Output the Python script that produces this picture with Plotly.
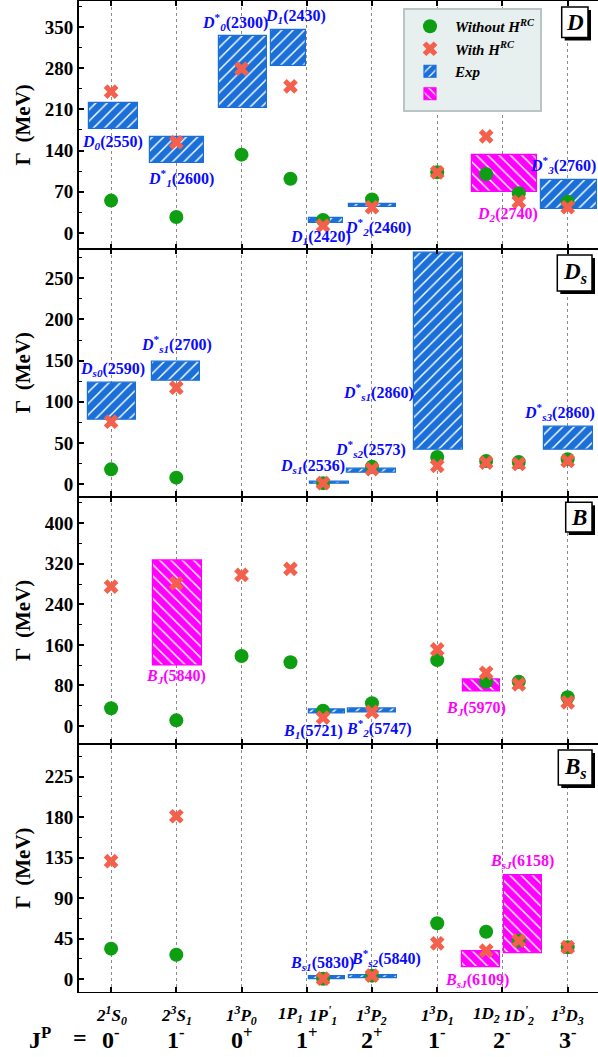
import plotly.graph_objects as go
from plotly.subplots import make_subplots

# ---------------- data ----------------
cat_x = [1, 2, 3, 3.75, 4.25, 5, 6, 6.75, 7.25, 8]
cat_labels = ["2<sup>1</sup>S<sub>0</sub>", "2<sup>3</sup>S<sub>1</sub>", "1<sup>3</sup>P<sub>0</sub>",
              "1P<sub>1</sub>", "1P<sup>'</sup><sub>1</sub>", "1<sup>3</sup>P<sub>2</sub>",
              "1<sup>3</sup>D<sub>1</sub>", "1D<sub>2</sub>", "1D<sup>'</sup><sub>2</sub>",
              "1<sup>3</sup>D<sub>3</sub>"]
jp_x = [1, 2, 3, 4, 5, 6, 7, 8]
jp_labels = ["0<sup>-</sup>", "1<sup>-</sup>", "0<sup>+</sup>", "1<sup>+</sup>",
             "2<sup>+</sup>", "1<sup>-</sup>", "2<sup>-</sup>", "3<sup>-</sup>"]

D_without = [55, 27, 133, 92, 22, 57, 103, 100, 67.5, 53]
D_with = [240, 154, 279, 249, 12.4, 43.7, 103, 164, 53, 43.7]
Ds_without = [17.8, 7.7, None, None, 1, 21, 32.8, 28, 26.7, 30]
Ds_with = [75.7, 117, None, None, 1, 18, 22, 26, 24.3, 28]
B_without = [35, 11.2, 138, 125.7, 30, 44.8, 130, 87.5, 87.5, 56.6]
B_with = [275, 281.6, 298, 310, 16.4, 28, 151, 105, 82, 46.8]
Bs_without = [33.7, 27, None, None, 0.3, 3.7, 62, 52.6, 42.6, 35.3]
Bs_with = [131, 181, None, None, 0.3, 3.7, 39.7, 31.5, 42.6, 35.3]

# experimental width ranges (x centre in category units, low, high, kind)
D_exp_x = [1.035, 2.01, 3.02, 3.72, 4.29, 5.01, 7.03, 8.02]
D_exp_low = [177, 118.6, 212, 284, 16.5, 44, 69, 40]
D_exp_high = [220.7, 163, 334, 345, 25, 49, 132.7, 90]
D_exp_kind = ["b", "b", "b", "b", "b", "b", "m", "b"]
D_exp_name = ["<i>D</i><sub><i>0</i></sub>(2550)", "<i>D</i><sup>*</sup><sub><i>1</i></sub>(2600)",
              "<i>D</i><sup>*</sup><sub><i>0</i></sub>(2300)", "<i>D</i><sub><i>1</i></sub>(2430)",
              "<i>D</i><sub><i>1</i></sub>(2420)", "<i>D</i><sup>*</sup><sub><i>2</i></sub>(2460)",
              "<i>D</i><sub><i>2</i></sub>(2740)", "<i>D</i><sup>*</sup><sub><i>3</i></sub>(2760)"]

Ds_exp_x = [1.01, 1.99, 4.35, 4.99, 6.02, 8.01]
Ds_exp_low = [78.6, 125.6, 0, 14, 41.3, 41.3]
Ds_exp_high = [123, 148.7, 2.5, 18.5, 281.6, 69.6]
Ds_exp_kind = ["b", "b", "b", "b", "b", "b"]
Ds_exp_name = ["<i>D</i><sub><i>s0</i></sub>(2590)", "<i>D</i><sup>*</sup><sub><i>s1</i></sub>(2700)",
               "<i>D</i><sub><i>s1</i></sub>(2536)", "<i>D</i><sup>*</sup><sub><i>s2</i></sub>(2573)",
               "<i>D</i><sup>*</sup><sub><i>s1</i></sub>(2860)", "<i>D</i><sup>*</sup><sub><i>s3</i></sub>(2860)"]

B_exp_x = [2.02, 4.31, 5.0, 6.68]
B_exp_low = [119, 23.7, 26, 68.5]
B_exp_high = [327, 31.6, 34, 92]
B_exp_kind = ["m", "b", "b", "m"]
B_exp_name = ["<i>B</i><sub><i>J</i></sub>(5840)", "<i>B</i><sub><i>1</i></sub>(5721)",
              "<i>B</i><sup>*</sup><sub><i>2</i></sub>(5747)", "<i>B</i><sub><i>J</i></sub>(5970)"]

Bs_exp_x = [4.31, 5.01, 6.67, 7.32]
Bs_exp_low = [0, 0.8, 13, 28.6]
Bs_exp_high = [2.5, 4.4, 31, 115]
Bs_exp_kind = ["b", "b", "m", "m"]
Bs_exp_name = ["<i>B</i><sub><i>s1</i></sub>(5830)", "<i>B</i><sup>*</sup><sub><i>s2</i></sub>(5840)",
               "<i>B</i><sub><i>sJ</i></sub>(6109)", "<i>B</i><sub><i>sJ</i></sub>(6158)"]

# label anchor positions (data units)
D_lab_x = [1.02, 2.07, 2.90, 3.82, 4.21, 5.09, 7.07, 7.93]
D_lab_y = [153, 93, 358, 367, -8.5, 10, 30.6, 115.5]
Ds_lab_x = [1.02, 2.0, 4.09, 4.98, 5.10, 7.88]
Ds_lab_y = [139.4, 170, 21, 42.5, 112, 88]
B_lab_x = [1.995, 4.09, 5.10, 6.59]
B_lab_y = [97.3, -11.2, -4.5, 35]
Bs_lab_x = [4.24, 5.21, 6.61, 7.30]
Bs_lab_y = [17.5, 23.7, -1.9, 131]

panel_names = ["<b><i>D</i></b>", "<b><i>D</i><sub><i>s</i></sub></b>", "<b><i>B</i></b>",
               "<b><i>B</i><sub><i>s</i></sub></b>"]
y_ranges = [[-26.8, 394], [-15.2, 285.9], [-36, 452.8], [-14.5, 261.1]]
y_dticks = [70, 50, 80, 45]

# ---------------- style ----------------
W, H = 598, 1057
ML, MR, MT, MB = 79, 0, 1, 65
PW = W - ML - MR
PH = H - MT - MB
SERIF = "Liberation Serif"
BLUE = "#1a70d8"
MAG = "#ff00ff"
GREEN = "#0e9e12"
RED = "#f4604c"
LBLUE = "#0a0aff"

D_exp_w = [0.74, 0.83, 0.74, 0.53, 0.52, 0.71, 0.99, 0.85]
Ds_exp_w = [0.74, 0.74, 0.59, 0.76, 0.75, 0.75]
B_exp_w = [0.75, 0.56, 0.74, 0.58]
Bs_exp_w = [0.56, 0.74, 0.59, 0.58]

fig = make_subplots(rows=4, cols=1, shared_xaxes=True, vertical_spacing=0)

panels = [
    (D_without, D_with, D_exp_x, D_exp_low, D_exp_high, D_exp_kind, D_exp_name, D_exp_w, D_lab_x, D_lab_y),
    (Ds_without, Ds_with, Ds_exp_x, Ds_exp_low, Ds_exp_high, Ds_exp_kind, Ds_exp_name, Ds_exp_w, Ds_lab_x, Ds_lab_y),
    (B_without, B_with, B_exp_x, B_exp_low, B_exp_high, B_exp_kind, B_exp_name, B_exp_w, B_lab_x, B_lab_y),
    (Bs_without, Bs_with, Bs_exp_x, Bs_exp_low, Bs_exp_high, Bs_exp_kind, Bs_exp_name, Bs_exp_w, Bs_lab_x, Bs_lab_y),
]

boxes = [(561.7, 7, 588, 37.5), (557.3, 255, 592, 291), (565.7, 502.3, 592, 532), (558.3, 750, 592, 785)]

annotations = []
shapes = []
for i, (wo, wi, ex, lo, hi, kind, names, widths, lx, ly) in enumerate(panels):
    row = i + 1
    first = (i == 0)
    for k, col, shp, lname in [("b", BLUE, "/", "<b><i>Exp</i></b>"), ("m", MAG, "\\", " ")]:
        idx = [j for j in range(len(ex)) if kind[j] == k]
        xs = [ex[j] for j in idx]
        fig.add_trace(go.Bar(
            x=xs if xs else [None], y=[hi[j] - lo[j] for j in idx] if xs else [None],
            base=[lo[j] for j in idx] if xs else [None],
            width=[widths[j] for j in idx] if xs else [0.5],
            marker=dict(color="white",
                        pattern=dict(shape=shp, fgcolor=col, bgcolor="white", size=8,
                                     solidity=0.82, fgopacity=1),
                        line=dict(color=col, width=1.2)),
            name=lname, showlegend=first, legendrank=3 if k == "b" else 4,
        ), row=row, col=1)
    fig.add_trace(go.Scatter(
        x=cat_x, y=wo, mode="markers",
        marker=dict(symbol="circle", size=14, color=GREEN),
        name="<b><i>Without H<sup>RC</sup></i></b>", showlegend=first, legendrank=1), row=row, col=1)
    fig.add_trace(go.Scatter(
        x=cat_x, y=wi, mode="markers",
        marker=dict(symbol="x", size=13, color=RED, line=dict(width=0)),
        name="<b><i>With H<sup>RC</sup></i></b>", showlegend=first, legendrank=2), row=row, col=1)

    xr = "x" if row == 1 else f"x{row}"
    yr = "y" if row == 1 else f"y{row}"
    for j in range(len(names)):
        annotations.append(dict(
            x=lx[j], y=ly[j], xref=xr, yref=yr, text="<b>" + names[j] + "</b>", showarrow=False,
            font=dict(family=SERIF, size=16, color=MAG if kind[j] == "m" else LBLUE),
            xanchor="center", yanchor="middle"))

    # panel tag box with shadow
    top = MT + i * PH / 4
    bx0, by0, bx1, by1 = boxes[i]

    def fx(p):
        return (p - ML) / PW

    def fy(p, top=top):
        return (top + PH / 4 - p) / (PH / 4)

    shapes.append(dict(type="rect", xref=f"{xr} domain", yref=f"{yr} domain",
                       x0=fx(bx0 + 3), x1=fx(bx1 + 3), y0=fy(by1 + 3), y1=fy(by0 + 3),
                       fillcolor="black", line=dict(width=0), layer="above"))
    shapes.append(dict(type="rect", xref=f"{xr} domain", yref=f"{yr} domain",
                       x0=fx(bx0), x1=fx(bx1), y0=fy(by1), y1=fy(by0),
                       fillcolor="white", line=dict(color="black", width=1.5), layer="above"))
    annotations.append(dict(x=(fx(bx0) + fx(bx1)) / 2, y=(fy(by0) + fy(by1)) / 2,
                            xref=f"{xr} domain", yref=f"{yr} domain", text=panel_names[i],
                            showarrow=False, font=dict(family=SERIF, size=23, color="black"),
                            xanchor="center", yanchor="middle"))

    fig.update_yaxes(
        row=row, col=1, range=y_ranges[i], dtick=y_dticks[i], tick0=0,
        ticks="inside", ticklen=5, tickwidth=1.5, tickcolor="black",
        minor=dict(ticks="inside", ticklen=3, tickwidth=1.2, tickcolor="black", dtick=y_dticks[i] / 2),
        showline=True, linewidth=2, linecolor="black", mirror=False,
        showgrid=False, zeroline=False,
        tickfont=dict(family=SERIF, size=19, color="black", weight="bold"),
        title=dict(text="<b>Γ  (MeV)</b>", font=dict(family=SERIF, size=21, color="black"), standoff=8),
    )
    fig.update_xaxes(
        row=row, col=1, range=[0.508, 8.465], tickvals=[1, 2, 3, 4, 5, 6, 7, 8],
        showticklabels=False, ticks="inside", ticklen=5, tickwidth=1.5, tickcolor="black",
        showline=True, linewidth=1.4, linecolor="black", mirror="ticks",
        showgrid=True, gridcolor="#8a8a8a", griddash="dot", gridwidth=1, zeroline=False,
    )

# category labels and J^P row
for xv, t in zip(cat_x, cat_labels):
    annotations.append(dict(x=xv, y=-(1015 - (MT + PH)) / PH, xref="x4", yref="paper",
                            text="<b><i>" + t + "</i></b>", showarrow=False,
                            font=dict(family=SERIF, size=17, color="black"),
                            xanchor="center", yanchor="middle"))
for xv, t in zip(jp_x, jp_labels):
    annotations.append(dict(x=xv, y=-(1038 - (MT + PH)) / PH, xref="x4", yref="paper",
                            text="<b>" + t + "</b>", showarrow=False,
                            font=dict(family=SERIF, size=24, color="black"),
                            xanchor="center", yanchor="middle"))
annotations.append(dict(x=(40 - ML) / PW, y=-(1038 - (MT + PH)) / PH, xref="paper", yref="paper",
                        text="<b>J<sup>P</sup></b>", showarrow=False,
                        font=dict(family=SERIF, size=24, color="black"), xanchor="center", yanchor="middle"))
annotations.append(dict(x=(80 - ML) / PW, y=-(1038 - (MT + PH)) / PH, xref="paper", yref="paper",
                        text="<b>=</b>", showarrow=False,
                        font=dict(family=SERIF, size=24, color="black"), xanchor="center", yanchor="middle"))

fig.update_layout(
    width=W, height=H, margin=dict(l=ML, r=MR, t=MT, b=MB, autoexpand=False),
    paper_bgcolor="white", plot_bgcolor="white", barmode="overlay", bargap=0,
    annotations=annotations, shapes=shapes,
    legend=dict(x=(403 - ML) / PW, y=1 - (8 - MT) / PH, xanchor="left", yanchor="top",
                bgcolor="#e8f0ef", bordercolor="#b9c4c4", borderwidth=2,
                font=dict(family=SERIF, size=15, color="black"), itemwidth=40,
                tracegroupgap=0, traceorder="normal"),
    font=dict(family=SERIF),
)

fig.write_html("out.html", config={"displayModeBar": False},
               post_script="document.body.style.margin='0px';document.body.style.overflow='hidden';")
